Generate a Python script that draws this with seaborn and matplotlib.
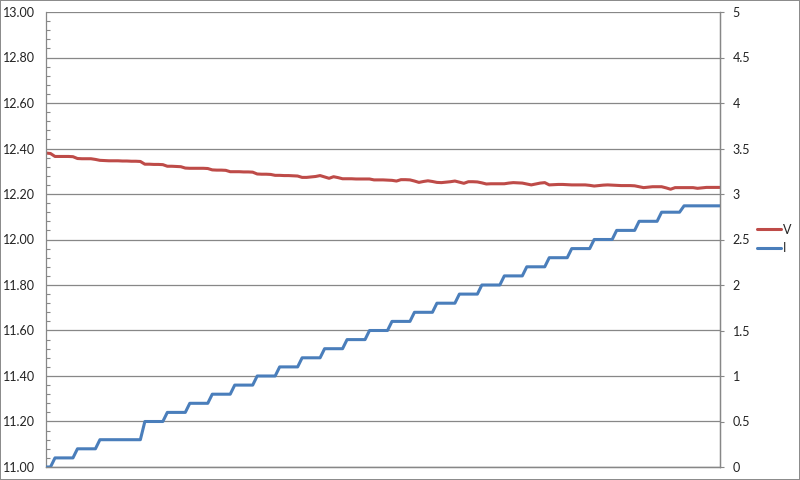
import numpy as np
import pandas as pd
import matplotlib
matplotlib.use("Agg")
import matplotlib.pyplot as plt
from matplotlib.ticker import MultipleLocator, FormatStrFormatter
import seaborn as sns

# Voltage (left axis), one value per sample
v_values = [
    12.380, 12.378, 12.365, 12.365, 12.365, 12.365, 12.364, 12.356, 12.355, 12.355,
    12.355, 12.352, 12.348, 12.347, 12.346, 12.346, 12.346, 12.345, 12.345, 12.344,
    12.344, 12.343, 12.331, 12.331, 12.330, 12.330, 12.329, 12.322, 12.322, 12.321,
    12.320, 12.314, 12.313, 12.313, 12.313, 12.313, 12.312, 12.306, 12.305, 12.305,
    12.304, 12.298, 12.298, 12.298, 12.297, 12.297, 12.296, 12.288, 12.287, 12.287,
    12.286, 12.282, 12.282, 12.281, 12.281, 12.280, 12.279, 12.273, 12.273, 12.275,
    12.277, 12.281, 12.275, 12.269, 12.276, 12.272, 12.267, 12.267, 12.267, 12.266,
    12.266, 12.266, 12.266, 12.262, 12.262, 12.262, 12.261, 12.260, 12.257, 12.263,
    12.263, 12.262, 12.257, 12.251, 12.255, 12.258, 12.255, 12.251, 12.250, 12.252,
    12.254, 12.257, 12.252, 12.247, 12.254, 12.254, 12.253, 12.249, 12.244, 12.245,
    12.245, 12.245, 12.245, 12.248, 12.250, 12.249, 12.248, 12.244, 12.240, 12.244,
    12.248, 12.250, 12.240, 12.241, 12.242, 12.242, 12.241, 12.240, 12.240, 12.240,
    12.240, 12.238, 12.235, 12.237, 12.239, 12.240, 12.239, 12.238, 12.237, 12.237,
    12.237, 12.236, 12.232, 12.228, 12.230, 12.232, 12.232, 12.232, 12.227, 12.221,
    12.228, 12.228, 12.228, 12.228, 12.228, 12.225, 12.227, 12.229, 12.229, 12.229,
    12.229,
]

# Current (right axis), stepping up by 0.1
i_values = [
    0.0, 0.0,
    0.1, 0.1, 0.1, 0.1, 0.1,
    0.2, 0.2, 0.2, 0.2, 0.2,
    0.3, 0.3, 0.3, 0.3, 0.3, 0.3, 0.3, 0.3, 0.3, 0.3,
    0.5, 0.5, 0.5, 0.5, 0.5,
    0.6, 0.6, 0.6, 0.6, 0.6,
    0.7, 0.7, 0.7, 0.7, 0.7,
    0.8, 0.8, 0.8, 0.8, 0.8,
    0.9, 0.9, 0.9, 0.9, 0.9,
    1.0, 1.0, 1.0, 1.0, 1.0,
    1.1, 1.1, 1.1, 1.1, 1.1,
    1.2, 1.2, 1.2, 1.2, 1.2,
    1.3, 1.3, 1.3, 1.3, 1.3,
    1.4, 1.4, 1.4, 1.4, 1.4,
    1.5, 1.5, 1.5, 1.5, 1.5,
    1.6, 1.6, 1.6, 1.6, 1.6,
    1.7, 1.7, 1.7, 1.7, 1.7,
    1.8, 1.8, 1.8, 1.8, 1.8,
    1.9, 1.9, 1.9, 1.9, 1.9,
    2.0, 2.0, 2.0, 2.0, 2.0,
    2.1, 2.1, 2.1, 2.1, 2.1,
    2.2, 2.2, 2.2, 2.2, 2.2,
    2.3, 2.3, 2.3, 2.3, 2.3,
    2.4, 2.4, 2.4, 2.4, 2.4,
    2.5, 2.5, 2.5, 2.5, 2.5,
    2.6, 2.6, 2.6, 2.6, 2.6,
    2.7, 2.7, 2.7, 2.7, 2.7,
    2.8, 2.8, 2.8, 2.8, 2.8,
    2.87, 2.87, 2.87, 2.87, 2.87, 2.87, 2.87, 2.87, 2.87,
]

df = pd.DataFrame({"sample": np.arange(len(v_values)), "V": v_values, "I": i_values})

sns.set_style("white")
plt.rcParams["font.family"] = ["Lato", "DejaVu Sans"]

red = "#BE4B48"
blue = "#4A7EBB"
grey = "#878787"

fig = plt.figure(figsize=(8, 4.8), dpi=100)
fig.patch.set_edgecolor("#8C8C8C")
fig.patch.set_linewidth(1.2)
ax = fig.add_axes([46 / 800, 13 / 480, 674 / 800, 455 / 480])
ax2 = ax.twinx()

sns.lineplot(data=df, x="sample", y="V", ax=ax, color=red, linewidth=2.2, label="V", legend=False)
sns.lineplot(data=df, x="sample", y="I", ax=ax2, color=blue, linewidth=2.2, label="I", legend=False)

ax.set_xlim(0, len(v_values) - 1)
ax.set_ylim(11, 13)
ax2.set_ylim(0, 5)

ax.yaxis.set_major_locator(MultipleLocator(0.2))
ax.yaxis.set_minor_locator(MultipleLocator(0.04))
ax.yaxis.set_major_formatter(FormatStrFormatter("%.2f"))
ax2.yaxis.set_major_locator(MultipleLocator(0.5))
ax2.set_yticks(np.arange(0, 5.01, 0.5))
ax2.set_yticklabels(["0", "0.5", "1", "1.5", "2", "2.5", "3", "3.5", "4", "4.5", "5"])

ax.set_xticks([])
ax.set_xlabel("")
ax.set_ylabel("")
ax2.set_ylabel("")

ax.grid(axis="y", which="major", color=grey, linewidth=0.9)
ax.tick_params(axis="y", which="major", length=0, pad=8, labelsize=9, colors="#222222")
ax.tick_params(axis="y", which="minor", direction="in", length=3, width=0.8, color=grey, left=True)
ax2.tick_params(axis="y", which="major", direction="out", length=3, width=0.8, color=grey,
                pad=6, labelsize=9, labelcolor="#222222")

for a in (ax, ax2):
    for side in ("left", "right", "bottom"):
        a.spines[side].set_color(grey)
        a.spines[side].set_linewidth(0.9)
    a.spines["top"].set_visible(False)
ax2.spines["left"].set_visible(False)

handles = ax.get_lines()[:1] + ax2.get_lines()[:1]
fig.legend(handles, ["V", "I"], loc="center left", bbox_to_anchor=(0.94, 0.502),
           frameon=False, fontsize=9, handlelength=1.9, handletextpad=0.2,
           labelspacing=0.55, borderaxespad=0)

fig.savefig("out.png", dpi=100)
